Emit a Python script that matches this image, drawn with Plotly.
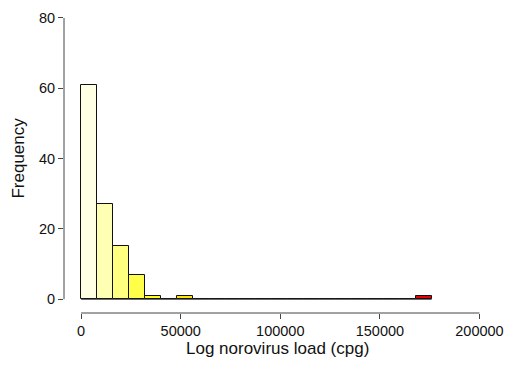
import plotly.graph_objects as go

# Histogram data (bin width 8000, bins start at 0)
bin_width = 8000
bin_starts = list(range(0, 176000, 8000))
counts = [61, 27, 15, 7, 1, 0, 1, 0, 0, 0, 0, 0, 0, 0, 0, 0, 0, 0, 0, 0, 0, 1]
bar_colors = ["#FFFFE3", "#FFFFB3", "#FFFF80", "#FFFF4A", "#FFFF1A", "#FFF000",
              "#FFE800"] + ["#FFCC00"] * 14 + ["#EE0000"]

x_tickvals = [0, 50000, 100000, 150000, 200000]
x_ticktext = ["0", "50000", "100000", "150000", "200000"]
y_tickvals = [0, 20, 40, 60, 80]
y_ticktext = ["0", "20", "40", "60", "80"]

x_title = "Log norovirus load (cpg)"
y_title = "Frequency"

FONT = "Liberation Sans, Arial, sans-serif"
AX = "#444444"

fig = go.Figure()

# baseline drawn by empty bins
fig.add_trace(go.Scatter(
    x=[bin_starts[0], bin_starts[-1] + bin_width], y=[0, 0],
    mode="lines", line=dict(color="#222222", width=1),
    hoverinfo="skip", showlegend=False))

fig.add_trace(go.Bar(
    x=[s + bin_width / 2 for s in bin_starts], y=counts, width=bin_width,
    marker=dict(color=bar_colors, line=dict(color="#111111", width=1)),
    showlegend=False))

fig.update_layout(
    width=513, height=365,
    margin=dict(l=64, r=13, t=10, b=52),
    paper_bgcolor="white", plot_bgcolor="white",
    font=dict(family=FONT, size=14.5, color="#111111"),
    bargap=0,
    xaxis=dict(range=[-8607, 208308], tickvals=x_tickvals, ticktext=x_ticktext,
               ticks="outside", ticklen=5, tickcolor=AX, tickwidth=1,
               showgrid=False, zeroline=False, showline=False,
               tickfont=dict(size=14.5)),
    yaxis=dict(range=[-3.93, 81.12], tickvals=y_tickvals, ticktext=y_ticktext,
               ticks="outside", ticklen=5, tickcolor=AX, tickwidth=1,
               showgrid=False, zeroline=False, showline=False,
               tickfont=dict(size=14.5)),
    shapes=[
        dict(type="line", xref="x", yref="paper", x0=x_tickvals[0], x1=x_tickvals[-1],
             y0=0, y1=0, line=dict(color=AX, width=1)),
        dict(type="line", xref="paper", yref="y", x0=0, x1=0,
             y0=y_tickvals[0], y1=y_tickvals[-1], line=dict(color=AX, width=1)),
    ],
    annotations=[
        dict(text=x_title, xref="x", yref="paper", x=98400, y=0, yanchor="middle",
             xanchor="center", yshift=-35, showarrow=False, font=dict(size=17)),
        dict(text=y_title, xref="paper", yref="y", x=0, y=40, xanchor="center",
             yanchor="middle", xshift=-45, textangle=-90, showarrow=False,
             font=dict(size=17)),
    ],
)

fig.write_html("out.html")
